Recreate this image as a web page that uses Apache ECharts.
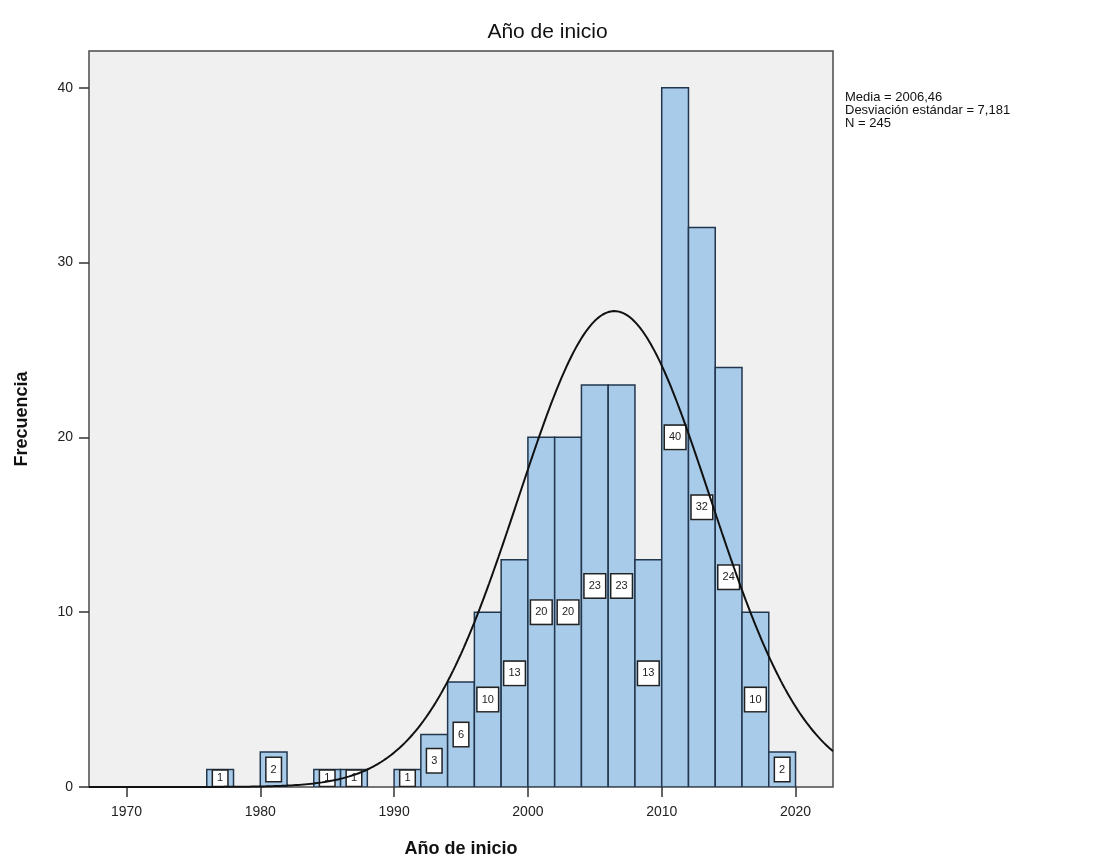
<!DOCTYPE html>
<html>
<head>
<meta charset="utf-8">
<script src="https://cdn.jsdelivr.net/npm/echarts@6/dist/echarts.min.js"></script>
<style>
html,body{margin:0;padding:0;background:#fff;}
#chart{width:1095px;height:867px;}
</style>
</head>
<body>
<div id="chart"></div>
<script>
// ---- data ----
const binStarts = [1976, 1980, 1984, 1986, 1990, 1992, 1994, 1996, 1998, 2000, 2002, 2004, 2006, 2008, 2010, 2012, 2014, 2016, 2018];
const counts    = [1,    2,    1,    1,    1,    3,    6,    10,   13,   20,   20,   23,   23,   13,   40,   32,   24,   10,   2];
const binWidth = 2;
const xTicks = [1970, 1980, 1990, 2000, 2010, 2020];
const yTicks = [0, 10, 20, 30, 40];
const statMean = 2006.46;
const statSd = 7.181;
const statN = 245;
const titleText = 'Año de inicio';
const xName = 'Año de inicio';
const yName = 'Frecuencia';
const statLines = ['Media = 2006,46', 'Desviación estándar = 7,181', 'N = 245'];

const FONT = '"Liberation Sans", Arial, sans-serif';
const xMin = 1967.2, xMax = 2022.8;

// histogram bins [start, end, count]
const bins = binStarts.map((s, i) => [s, s + binWidth, counts[i]]);

// fitted normal curve from the reported statistics
const curve = [];
for (let x = xMin; x <= xMax + 1e-9; x += 0.1) {
  const z = (x - statMean) / statSd;
  const y = statN * binWidth / (statSd * Math.sqrt(2 * Math.PI)) * Math.exp(-0.5 * z * z);
  curve.push([x, y]);
}

const chart = echarts.init(document.getElementById('chart'), null, {renderer: 'canvas'});
chart.setOption({
  backgroundColor: '#ffffff',
  animation: false,
  title: {
    text: titleText,
    left: 'center',
    top: 17,
    textStyle: {fontFamily: FONT, fontSize: 21, fontWeight: 'normal', color: '#111'}
  },
  grid: {
    left: 89, top: 51, right: 262, bottom: 80,
    show: true, backgroundColor: '#f0f0f0', borderColor: '#4a4a4a', borderWidth: 1.5
  },
  xAxis: {
    type: 'value', min: xMin, max: xMax,
    name: xName, nameLocation: 'middle', nameGap: 53,
    nameTextStyle: {fontFamily: FONT, fontSize: 18, fontWeight: 'bold', color: '#111'},
    axisLine: {show: false},
    splitLine: {show: false},
    axisTick: {show: true, length: 10, customValues: xTicks, lineStyle: {color: '#333', width: 1.5}},
    axisLabel: {customValues: xTicks, margin: 18, fontFamily: FONT, fontSize: 14, color: '#222',
                formatter: function (v) { return String(Math.round(v)); }}
  },
  yAxis: {
    type: 'value', min: 0, max: 42.1,
    name: yName, nameLocation: 'middle', nameGap: 58,
    nameTextStyle: {fontFamily: FONT, fontSize: 18, fontWeight: 'bold', color: '#111'},
    axisLine: {show: false},
    splitLine: {show: false},
    axisTick: {show: true, length: 10, customValues: yTicks, lineStyle: {color: '#333', width: 1.5}},
    axisLabel: {customValues: yTicks, margin: 16, fontFamily: FONT, fontSize: 14, color: '#222',
                formatter: function (v) { return String(Math.round(v)); }}
  },
  graphic: [{
    type: 'text', left: 845, top: 91,
    style: {text: statLines.join('\n'), fontFamily: FONT, fontSize: 13, lineHeight: 13, fill: '#111'}
  }],
  series: [
    {
      type: 'custom',
      clip: true,
      z: 2,
      data: bins,
      renderItem: function (params, api) {
        const x0 = api.value(0), x1 = api.value(1), v = api.value(2);
        const p0 = api.coord([x0, 0]);
        const p1 = api.coord([x1, v]);
        const mid = api.coord([(x0 + x1) / 2, v / 2]);
        const h = p0[1] - p1[1];
        const pv = Math.max(2, Math.min(6, (h - 15) / 2));
        return {
          type: 'group',
          children: [
            {type: 'rect', shape: {x: p0[0], y: p1[1], width: p1[0] - p0[0], height: h},
             style: {fill: '#a8cbe9', stroke: '#22364d', lineWidth: 1.5}},
            {type: 'text', x: mid[0], y: mid[1], z2: 10,
             style: {text: String(v), align: 'center', verticalAlign: 'middle',
                     fontFamily: FONT, fontSize: 11, fill: '#222',
                     backgroundColor: '#ffffff', borderColor: '#222', borderWidth: 1.5,
                     padding: [pv, 4, pv, 4]}}
          ]
        };
      }
    },
    {
      type: 'line',
      data: curve,
      showSymbol: false,
      smooth: false,
      z: 3,
      lineStyle: {color: '#111', width: 2},
      clip: true
    }
  ]
});
</script>
</body>
</html>
